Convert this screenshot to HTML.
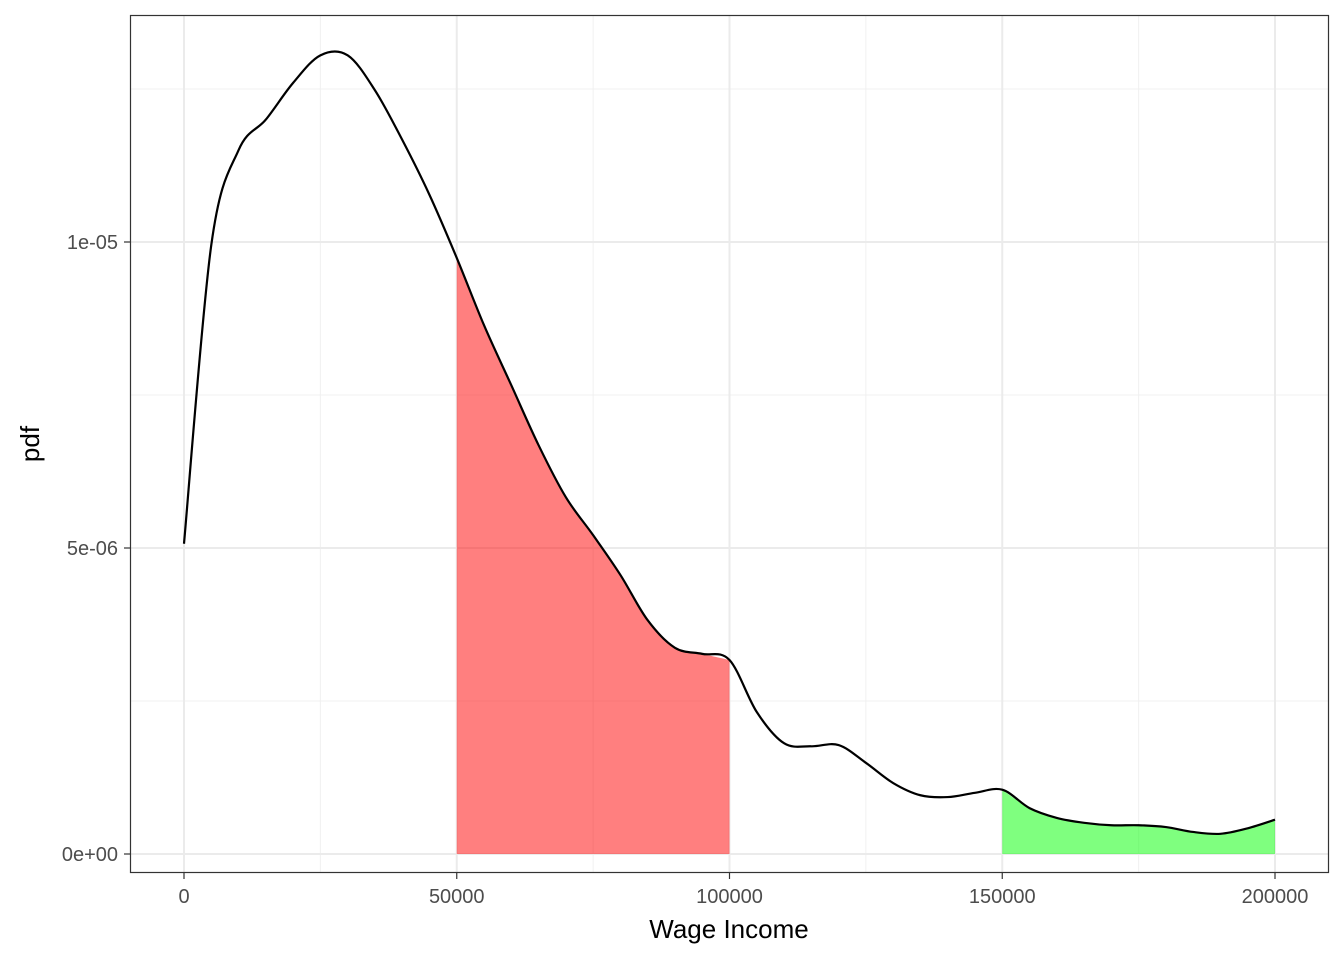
<!DOCTYPE html>
<html><head><meta charset="utf-8"><style>
body{margin:0;background:#fff;font-family:"Liberation Sans",sans-serif;}
</style></head><body>
<svg id="chart" width="1344" height="960" xmlns="http://www.w3.org/2000/svg"></svg>
<script>
const xs=[0,5,10,15,20,25,30,35,40,45,50,55,60,65,70,75,80,85,90,95,100,105,110,115,120,125,130,135,140,145,150,155,160,165,170,175,180,185,190,195,200];
const ys=[5.07,9.95,11.5,12.0,12.6,13.05,13.05,12.48,11.67,10.77,9.74,8.64,7.66,6.68,5.83,5.21,4.56,3.82,3.37,3.27,3.17,2.32,1.81,1.76,1.78,1.49,1.16,0.96,0.93,1.0,1.05,0.75,0.59,0.51,0.47,0.47,0.44,0.36,0.33,0.42,0.56];
const xTicks=[0,50000,100000,150000,200000];
const xTickLabels=["0","50000","100000","150000","200000"];
const yTicks=[0,5,10];
const yTickLabels=["0e+00","5e-06","1e-05"];
const redRange=[50,100], greenRange=[150,200];
const X=v=>184+v*(1091/200);
const Y=v=>854-v*61.2;
const svg=document.getElementById('chart');
const NS='http://www.w3.org/2000/svg';
function mk(t,a,p){const e=document.createElementNS(NS,t);for(const k in a)e.setAttribute(k,a[k]);(p||svg).appendChild(e);return e;}
const bg=mk('rect',{x:130,y:15,width:1199,height:858,fill:'#fff'});


[25,75,125,175].forEach(v=>{const l=mk('line',{x1:X(v),x2:X(v),y1:15,y2:873,stroke:'#f0f0f0','stroke-width':1});

});
[2.5,7.5,12.5].forEach(v=>{const l=mk('line',{x1:130,x2:1329,y1:Y(v),y2:Y(v),stroke:'#f0f0f0','stroke-width':1});

});
xTicks.forEach(v=>{const l=mk('line',{x1:X(v/1000),x2:X(v/1000),y1:15,y2:873,stroke:'#ebebeb','stroke-width':2});

});
yTicks.forEach(v=>{const l=mk('line',{x1:130,x2:1329,y1:Y(v),y2:Y(v),stroke:'#ebebeb','stroke-width':2});

});
function pts(a,b){const p=[];for(let i=0;i<xs.length;i++)if(xs[i]>=a&&xs[i]<=b)p.push([X(xs[i]),Y(ys[i])]);return p;}
function smooth(p){let d='M'+p[0][0]+','+p[0][1];for(let i=0;i<p.length-1;i++){const p0=p[i-1]||p[i],p1=p[i],p2=p[i+1],p3=p[i+2]||p2;
d+=' C'+(p1[0]+(p2[0]-p0[0])/6)+','+(p1[1]+(p2[1]-p0[1])/6)+' '+(p2[0]-(p3[0]-p1[0])/6)+','+(p2[1]-(p3[1]-p1[1])/6)+' '+p2[0]+','+p2[1];}return d;}
function area(r,col,name){const p=pts(r[0],r[1]);const d=smooth(p)+' L'+X(r[1])+','+Y(0)+' L'+X(r[0])+','+Y(0)+' Z';
const e=mk('path',{d:d,fill:col,'fill-opacity':0.5});

}
area(redRange,'#ff0000','red-area');
area(greenRange,'#00ff00','green-area');
const line=mk('path',{d:smooth(pts(0,200)),fill:'none',stroke:'#000','stroke-width':2.2});


const border=mk('rect',{x:130.5,y:15.5,width:1198,height:857,fill:'none',stroke:'#333','stroke-width':1.2});


xTicks.forEach((v,i)=>{mk('line',{x1:X(v/1000),x2:X(v/1000),y1:873,y2:879,stroke:'#333','stroke-width':1.2});
const t=mk('text',{x:X(v/1000),y:903,'text-anchor':'middle','font-size':20,fill:'#4d4d4d'});t.textContent=xTickLabels[i];

});
yTicks.forEach((v,i)=>{mk('line',{x1:124,x2:130,y1:Y(v),y2:Y(v),stroke:'#333','stroke-width':1.2});
const t=mk('text',{x:118,y:Y(v)+7,'text-anchor':'end','font-size':20,fill:'#4d4d4d'});t.textContent=yTickLabels[i];

});
const xt=mk('text',{x:729,y:938,'text-anchor':'middle','font-size':26,fill:'#000'});xt.textContent='Wage Income';


const yt=mk('text',{x:39,y:444,'text-anchor':'middle','font-size':26,fill:'#000',transform:'rotate(-90 39 444)'});yt.textContent='pdf';


</script>
</body></html>
